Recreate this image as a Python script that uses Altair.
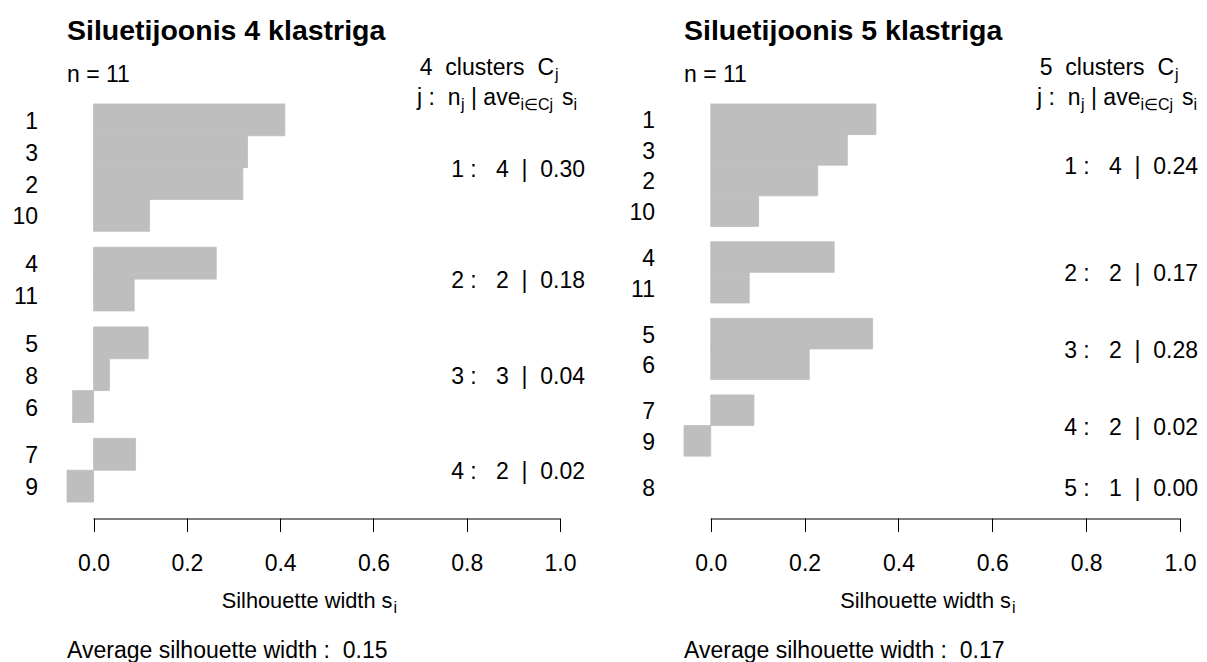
import altair as alt
import pandas as pd

# ---------------- data ----------------
names_k4 = ["1", "3", "2", "10", "4", "11", "5", "8", "6", "7", "9"]
cluster_k4 = [1, 1, 1, 1, 2, 2, 3, 3, 3, 4, 4]
sil_k4 = [0.41, 0.33, 0.32, 0.12, 0.263, 0.087, 0.117, 0.034, -0.045, 0.09, -0.057]
avg_k4 = [0.30, 0.18, 0.04, 0.02]
overall_k4 = 0.15
title_k4 = "Siluetijoonis 4 klastriga"

names_k5 = ["1", "3", "2", "10", "4", "11", "5", "6", "7", "9", "8"]
cluster_k5 = [1, 1, 1, 1, 2, 2, 3, 3, 4, 4, 5]
sil_k5 = [0.352, 0.291, 0.228, 0.102, 0.263, 0.082, 0.345, 0.21, 0.092, -0.057, 0.0]
avg_k5 = [0.24, 0.17, 0.28, 0.02, 0.00]
overall_k5 = 0.17
title_k5 = "Siluetijoonis 5 klastriga"

ticks = [0.0, 0.2, 0.4, 0.6, 0.8, 1.0]

# ---------------- style ----------------
FONT = "Liberation Sans"
GRAY = "#BEBEBE"
FS = 23       # base font size
SUB = 16      # subscript font size
H = 430       # plot height
GAP = 0.5     # gap between clusters (bar units)
SP = "\u00a0"  # non-collapsing space
one = pd.DataFrame({"k": [0]})


def label(text, x, y, size=FS, align="left", weight="normal"):
    return alt.Chart(one).mark_text(
        text=text.replace(" ", SP), align=align, baseline="alphabetic", font=FONT,
        fontSize=size, fontWeight=weight, color="black"
    ).encode(x=alt.value(x), y=alt.value(y))


def panel(names, clusters, sil, avgs, overall, title, W, stat_dx, anchor=False):
    df = pd.DataFrame({"name": names, "cluster": clusters, "s": sil})
    grp = pd.Series(clusters).rank(method="dense").astype(int) - 1
    df["y0"] = [i + GAP * g for i, g in enumerate(grp)]
    df["y1"] = df["y0"] + 1
    df["mid"] = (df["y0"] + df["y1"]) / 2
    df["base"] = 0.0
    total = df["y1"].max()
    xs = alt.Scale(domain=[min(0.0, min(sil)), 1.0], nice=False, zero=False)
    ys = alt.Scale(domain=[-0.04 * total, 1.04 * total], reverse=True, nice=False, zero=False)

    k = len(avgs)
    n = len(names)
    cdf = df.groupby("cluster").agg(n=("name", "size"), mid=("mid", "mean")).reset_index()
    cdf["ave"] = avgs
    cdf["lab"] = [f"{c} :   {m}  |  {a:.2f}".replace(" ", SP)
                  for c, m, a in zip(cdf["cluster"], cdf["n"], cdf["ave"])]

    bars = alt.Chart(df).transform_filter("datum.s != 0").mark_rect(
        color=GRAY, stroke=GRAY, strokeWidth=0.8
    ).encode(
        x=alt.X("s:Q", scale=xs, axis=alt.Axis(
            values=ticks, format=".1f", domain=False, grid=False, tickSize=13.5,
            tickColor="black", tickWidth=1, labelFont=FONT, labelFontSize=FS,
            labelColor="black", labelPadding=21, title=None, labelFlush=False,
            labelOverlap=False)),
        x2="base",
        y=alt.Y("y0:Q", scale=ys, axis=None),
        y2="y1",
    )
    axisline = alt.Chart(pd.DataFrame({"a": [ticks[0]], "b": [ticks[-1]]})).mark_rule(
        color="black", strokeWidth=1
    ).encode(x=alt.X("a:Q", scale=xs), x2="b", y=alt.value(H + 1))

    rownames = alt.Chart(df).mark_text(
        align="right", baseline="middle", font=FONT, fontSize=FS, dy=2, color="black"
    ).encode(x=alt.value(-29), y=alt.Y("mid:Q", scale=ys, axis=None), text="name:N")

    stats = alt.Chart(cdf).mark_text(
        align="right", baseline="middle", font=FONT, fontSize=FS, dy=2, color="black"
    ).encode(x=alt.value(W + stat_dx), y=alt.Y("mid:Q", scale=ys, axis=None), text="lab:N")

    b = 17  # baseline of second header line
    texts = [
        label(title, 0, -48.5, size=28.5, weight="bold"),
        label(f"n = {n}", 0, -6.3),
        label(f"{k}  clusters  C", W - 6, -13, align="right"),
        label("j", W - 5, -8, size=SUB),
        label("j :  n", W - 143, b),
        label("j", W - 99, b + 5, size=SUB),
        label("| ave", W - 89, b),
        label("i\u2208Cj", W - 39.5, b + 5, size=SUB),
        label("s", W + 2, b),
        label("i", W + 13.5, b + 5, size=SUB),
        label("Silhouette width s", W / 2 + 79, 520.3, size=21.8, align="right"),
        label("i", W / 2 + 80, 525.3, size=SUB),
        label(f"Average silhouette width :  {overall:.2f}", 0, 570.3),
    ]
    layers = [bars, axisline, rownames, stats] + texts
    if anchor:
        layers.append(alt.Chart(one).mark_rect(color="white").encode(
            x=alt.value(-58.7), x2=alt.value(-57.7), y=alt.value(-80), y2=alt.value(-79)))
    return alt.layer(*layers).properties(width=W, height=H)


left = panel(names_k4, cluster_k4, sil_k4, avg_k4, overall_k4, title_k4, 493, 25, anchor=True)
right = panel(names_k5, cluster_k5, sil_k5, avg_k5, overall_k5, title_k5, 496, 18)

chart = alt.hconcat(left, right, spacing=124, bounds="flush").properties(
    padding=0
).configure_view(stroke=None)

chart.save("out.html", embed_options={"renderer": "svg", "actions": False})
